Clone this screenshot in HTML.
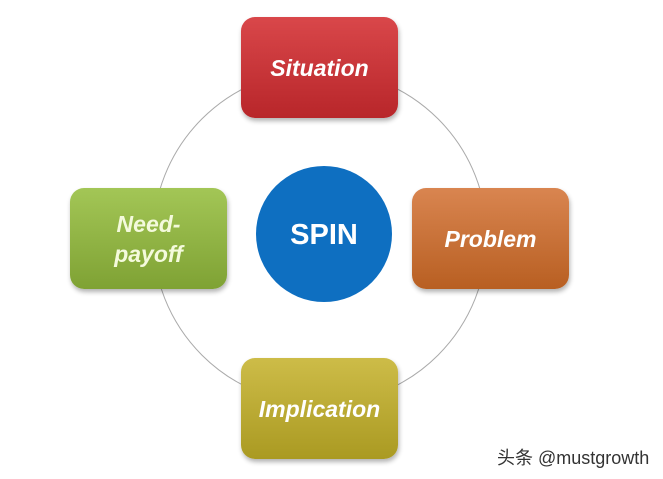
<!DOCTYPE html>
<html><head><style>
body{margin:0;width:663px;height:479px;background:#fff;position:relative;overflow:hidden;font-family:"Liberation Sans",sans-serif}
.b{position:absolute;width:157px;height:101px;border-radius:14px;display:flex;align-items:center;justify-content:center;text-align:center;color:#fff;font-style:italic;font-weight:bold;font-size:23px;line-height:30px;box-shadow:1px 3px 5px rgba(0,0,0,.3)}
</style></head><body>
<svg width="663" height="479" style="position:absolute;left:0;top:0">
<circle cx="320" cy="237" r="167" fill="none" stroke="#aaa" stroke-width="1"/>
<circle cx="324" cy="234" r="68" fill="#0e6fc1"/>
<text x="324" y="244" text-anchor="middle" font-family="Liberation Sans" font-weight="bold" font-size="29" fill="#fff">SPIN</text>
</svg>
<div class="b" style="left:241px;top:17px;background:linear-gradient(#d9474a,#b8262a)">Situation</div>
<div class="b" style="left:412px;top:188px;background:linear-gradient(#d98550,#b85f22)">Problem</div>
<div class="b" style="left:70px;top:188px;background:linear-gradient(#a3c656,#7fa234);color:#f4fadc">Need-<br>payoff</div>
<div class="b" style="left:241px;top:358px;background:linear-gradient(#cdbc48,#aa9a22)">Implication</div>
<div style="position:absolute;left:497px;top:444px;font-size:18px;color:#333;font-family:'Liberation Sans','Noto Sans CJK SC',sans-serif">头条 @mustgrowth</div>
</body></html>
